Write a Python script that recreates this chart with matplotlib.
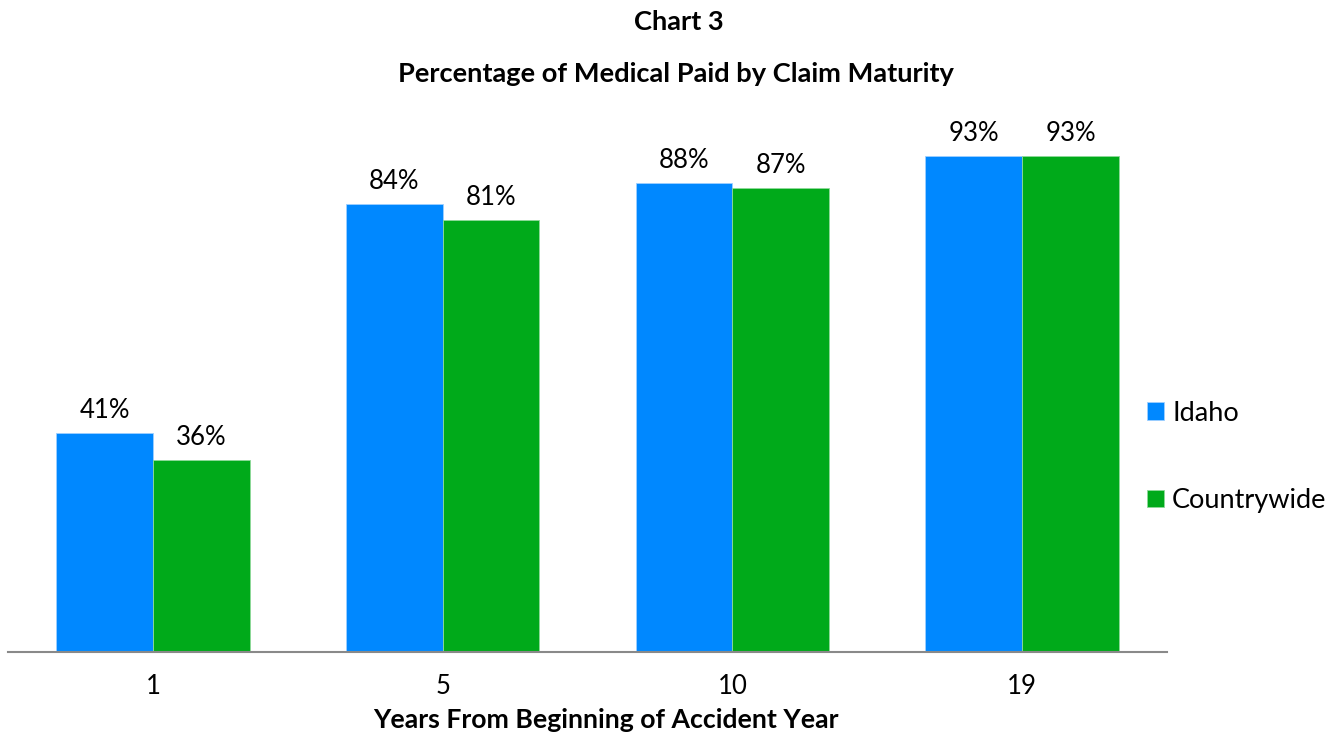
import matplotlib.pyplot as plt
import numpy as np

plt.rcParams['font.family'] = ['Lato', 'DejaVu Sans']

# Data
years = ["1", "5", "10", "19"]
idaho = [0.41, 0.84, 0.88, 0.93]
countrywide = [0.36, 0.81, 0.87, 0.93]
series_names = ["Idaho", "Countrywide"]

blue = "#0088FF"
green = "#00AA1A"

fig = plt.figure(figsize=(13.36, 7.35), dpi=100)
ax = fig.add_axes([8 / 1336, 83 / 735, 1159 / 1336, 533 / 735])

x = np.arange(len(years))
w = 0.334
b1 = ax.bar(x - w / 2, idaho, w, color=blue, edgecolor="#9fd0ff", linewidth=0.6, label=series_names[0])
b2 = ax.bar(x + w / 2, countrywide, w, color=green, edgecolor="#8fd99a", linewidth=0.6, label=series_names[1])

# Value labels
for bars, vals in [(b1, idaho), (b2, countrywide)]:
    for bar, v in zip(bars, vals):
        ax.annotate(f"{v:.0%}", (bar.get_x() + bar.get_width() / 2, v),
                    xytext=(0, 7.5), textcoords="offset points",
                    ha="center", va="bottom", fontsize=18.5)

ax.set_xlim(-0.5, len(years) - 0.5)
ax.set_ylim(0, 1)
ax.set_xticks(x)
ax.set_xticklabels(years, fontsize=18.5)
ax.tick_params(axis="x", length=0, pad=16)
ax.set_yticks([])
for s in ["top", "right", "left"]:
    ax.spines[s].set_visible(False)
ax.spines["bottom"].set_color("#898989")
ax.spines["bottom"].set_linewidth(1.5)
ax.set_xlabel("Years From Beginning of Accident Year", fontsize=19.2, fontweight="bold")
ax.xaxis.set_label_coords((606 - 8) / 1159, -(720 - 652) / 533, transform=ax.transAxes)
ax.xaxis.label.set_va("center")

# Titles
fig.text(0.508, 1 - 22 / 735, "Chart 3", ha="center", va="center", fontsize=19.6, fontweight="bold")
fig.text(0.506, 1 - 74 / 735, "Percentage of Medical Paid by Claim Maturity",
         ha="center", va="center", fontsize=19.6, fontweight="bold")

# Legend
fig.legend(loc="center left", bbox_to_anchor=(1147 / 1336, 1 - 457 / 735), frameon=False,
           fontsize=19.5, handlelength=0.63, handleheight=0.63, handletextpad=0.3,
           labelspacing=2.3, borderpad=0, borderaxespad=0)

fig.savefig("out.png", dpi=100)
